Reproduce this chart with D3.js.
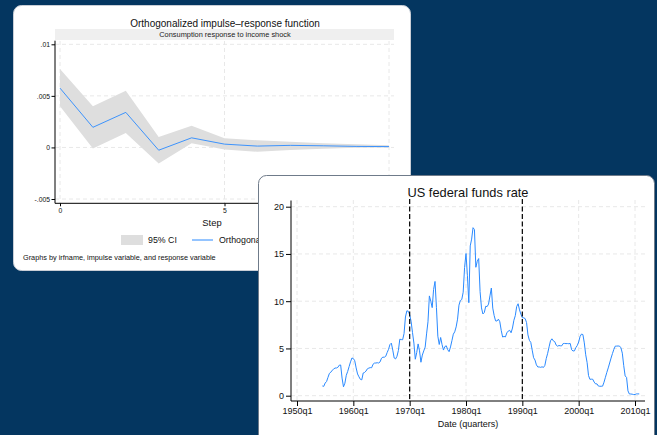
<!DOCTYPE html>
<html>
<head>
<meta charset="utf-8">
<script src="https://cdn.jsdelivr.net/npm/d3@7"></script>
<style>
  html, body { margin: 0; padding: 0; background: #043660; }
  svg { display: block; font-family: "Liberation Sans", Arial, sans-serif; }
</style>
</head>
<body>
<script>
// irf data (steps 0..10)
const steps = [0, 1, 2, 3, 4, 5, 6, 7, 8, 9, 10]
const irf = [0.00575, 0.00195, 0.0034, -0.00027, 0.00093, 0.00032, 0.00013, 0.0002, 0.00016, 0.0001, 0.00008]
const ciUpper = [0.0076, 0.0040, 0.0055, 0.0010, 0.0021, 0.0009, 0.0007, 0.00055, 0.0004, 0.0003, 0.0002]
const ciLower = [0.0040, -0.0001, 0.0014, -0.00156, 0.0004, -0.0002, -0.00043, -0.00026, -0.00013, -0.00003, 0.0000]
const irfYTicks = [-0.005, 0, 0.005, 0.01]
const irfYLabels = ["-.005", "0", ".005", ".01"]
const irfXTicks = [0, 5, 10]

// fed funds, quarterly from 1954q3 to 2010q4
const ffStart = 1954.5
const fedfunds = [
  1.03, 0.99,
  1.34, 1.50, 1.94, 2.36,
  2.48, 2.69, 2.81, 2.93,
  2.93, 3.00, 3.23, 3.25,
  1.86, 0.94, 1.32, 2.16,
  2.57, 3.08, 3.58, 3.99,
  3.93, 3.70, 2.94, 2.30,
  2.00, 1.73, 1.68, 2.40,
  2.46, 2.61, 2.85, 2.92,
  2.97, 2.96, 3.33, 3.45,
  3.46, 3.49, 3.46, 3.58,
  3.97, 4.08, 4.07, 4.17,
  4.56, 4.91, 5.41, 5.56,
  4.82, 3.99, 3.89, 4.17,
  4.79, 5.98, 5.94, 5.92,
  6.57, 8.33, 8.98, 8.94,
  8.57, 7.88, 6.70, 5.57,
  3.86, 4.56, 5.48, 4.75,
  3.54, 4.30, 4.74, 5.14,
  6.54, 7.82, 10.56, 10.00,
  9.32, 11.25, 12.09, 9.35,
  6.30, 5.42, 6.16, 5.41,
  4.83, 5.20, 5.28, 4.87,
  4.66, 5.16, 5.82, 6.51,
  6.76, 7.28, 8.10, 9.58,
  10.07, 10.18, 10.95, 13.58,
  15.05, 12.69, 9.84, 15.85,
  16.57, 17.78, 17.58, 13.59,
  14.23, 14.51, 11.01, 9.29,
  8.65, 8.80, 9.46, 9.43,
  9.69, 10.56, 11.39, 9.27,
  8.48, 7.92, 7.90, 8.10,
  7.83, 6.92, 6.21, 6.27,
  6.22, 6.65, 6.84, 6.92,
  6.66, 7.16, 7.98, 8.47,
  9.44, 9.73, 9.08, 8.61,
  8.25, 8.24, 8.16, 7.74,
  6.43, 5.86, 5.64, 4.82,
  4.02, 3.77, 3.26, 3.04,
  3.04, 3.00, 3.06, 2.99,
  3.21, 3.94, 4.49, 5.17,
  5.81, 6.02, 5.80, 5.72,
  5.36, 5.24, 5.31, 5.28,
  5.28, 5.52, 5.53, 5.51,
  5.52, 5.50, 5.53, 4.86,
  4.73, 4.75, 5.09, 5.31,
  5.68, 6.27, 6.52, 6.47,
  5.59, 4.33, 3.50, 2.13,
  1.73, 1.75, 1.74, 1.44,
  1.25, 1.25, 1.02, 1.00,
  1.00, 1.01, 1.43, 1.95,
  2.47, 2.94, 3.46, 3.98,
  4.46, 4.91, 5.25, 5.25,
  5.26, 5.25, 5.07, 4.50,
  3.18, 2.09, 1.94, 0.51,
  0.18, 0.18, 0.16, 0.12,
  0.13, 0.19, 0.19, 0.19
]
const ffXTicks = [1950, 1960, 1970, 1980, 1990, 2000, 2010]
const ffYTicks = [0, 5, 10, 15, 20]
const ffLines = [1970, 1990]

const blue = "#2a8aff"
const grid = "#e8e8e8"

var svg = d3.select("body").append("svg")
  .attr("width", 657).attr("height", 435)

svg.append("rect").attr("width", 657).attr("height", 435).attr("fill", "#043660")

// ---------- left card : irf ----------
var left = svg.append("g")
left.append("rect")
  .attr("x", 13.5).attr("y", 5.5).attr("width", 397).attr("height", 265)
  .attr("rx", 8).attr("fill", "#fff").attr("stroke", "#c9ced6")

let xI = d3.scaleLinear().domain([0, 10]).range([60, 389])
let yI = d3.scaleLinear().domain([-0.005, 0.01]).range([199, 44.3])

left.append("text").text("Orthogonalized impulse\u2013response function")
  .attr("x", 225).attr("y", 26.5).attr("text-anchor", "middle")
  .attr("font-size", 10).attr("fill", "#111")
left.append("rect").attr("x", 55).attr("y", 29).attr("width", 339).attr("height", 11)
  .attr("fill", "#efefef")
left.append("text").text("Consumption response to income shock")
  .attr("x", 225).attr("y", 37.3).attr("text-anchor", "middle")
  .attr("font-size", 7.4).attr("fill", "#222")

// grid
left.selectAll(".hg").data(irfYTicks).enter().append("line")
  .attr("x1", 55).attr("x2", 394)
  .attr("y1", d => yI(d)).attr("y2", d => yI(d))
  .attr("stroke", grid).attr("stroke-dasharray", "4,3")
left.selectAll(".vg").data(irfXTicks).enter().append("line")
  .attr("x1", d => xI(d)).attr("x2", d => xI(d))
  .attr("y1", 41).attr("y2", 203)
  .attr("stroke", grid).attr("stroke-dasharray", "4,3")

// ci band
let band = d3.area()
  .x((d, i) => xI(steps[i]))
  .y0((d, i) => yI(ciLower[i]))
  .y1((d, i) => yI(ciUpper[i]))
left.append("path").datum(steps).attr("d", band).attr("fill", "#dedede")

let lineI = d3.line().x((d, i) => xI(steps[i])).y(d => yI(d))
left.append("path").datum(irf).attr("d", lineI)
  .attr("fill", "none").attr("stroke", blue).attr("stroke-width", 0.9)

// axes
let yAxI = d3.axisLeft(yI).tickValues(irfYTicks)
  .tickFormat((d, i) => irfYLabels[i]).tickSize(3.5).tickPadding(1.5)
let gy = left.append("g").attr("transform", "translate(55,0)").call(yAxI)
gy.select(".domain").attr("d", "M0,40.7V203.3").attr("stroke", "#000")
gy.selectAll("text").attr("font-size", 6.8).attr("fill", "#111").attr("font-family", "Liberation Sans, Arial")

let xAxI = d3.axisBottom(xI).tickValues(irfXTicks).tickFormat(d3.format("d")).tickSize(3).tickPadding(1.5)
let gx = left.append("g").attr("transform", "translate(0,203.3)").call(xAxI)
gx.select(".domain").attr("d", "M55,0H400").attr("stroke", "#000")
gx.selectAll("text").attr("font-size", 6.8).attr("fill", "#111").attr("font-family", "Liberation Sans, Arial")

left.append("text").text("Step").attr("x", 212).attr("y", 226)
  .attr("text-anchor", "middle").attr("font-size", 9.4).attr("fill", "#111")

// legend
left.append("rect").attr("x", 121).attr("y", 235).attr("width", 22).attr("height", 10).attr("fill", "#dedede")
left.append("text").text("95% CI").attr("x", 148).attr("y", 243.3).attr("font-size", 8.8).attr("fill", "#111")
left.append("line").attr("x1", 192).attr("x2", 213).attr("y1", 240).attr("y2", 240)
  .attr("stroke", blue).attr("stroke-width", 1)
left.append("text").text("Orthogonalized irf").attr("x", 219).attr("y", 243.3).attr("font-size", 8.8).attr("fill", "#111")

left.append("text").text("Graphs by irfname, impulse variable, and response variable")
  .attr("x", 23).attr("y", 259.5).attr("font-size", 7.3).attr("fill", "#111")

// ---------- right card : fed funds ----------
var right = svg.append("g")
right.append("rect")
  .attr("x", 258.5).attr("y", 175.5).attr("width", 396).attr("height", 280)
  .attr("rx", 8).attr("fill", "#fff").attr("stroke", "#6f7b8a")

let xF = d3.scaleLinear().domain([1950, 2010]).range([297, 635])
let yF = d3.scaleLinear().domain([0, 20]).range([395.7, 206.7])

right.append("text").text("US federal funds rate")
  .attr("x", 468).attr("y", 196.5).attr("text-anchor", "middle")
  .attr("font-size", 12.8).attr("fill", "#111")

right.selectAll(".hg").data(ffYTicks).enter().append("line")
  .attr("x1", 291).attr("x2", 645)
  .attr("y1", d => yF(d)).attr("y2", d => yF(d))
  .attr("stroke", grid).attr("stroke-dasharray", "4,3")
right.selectAll(".vg").data(ffXTicks).enter().append("line")
  .attr("x1", d => xF(d)).attr("x2", d => xF(d))
  .attr("y1", 200).attr("y2", 401)
  .attr("stroke", grid).attr("stroke-dasharray", "4,3")

let lineF = d3.line().x((d, i) => xF(ffStart + i / 4)).y(d => yF(d))
right.append("path").datum(fedfunds).attr("d", lineF)
  .attr("fill", "none").attr("stroke", blue).attr("stroke-width", 1)

right.selectAll(".xl").data(ffLines).enter().append("line")
  .attr("x1", d => xF(d)).attr("x2", d => xF(d))
  .attr("y1", 199).attr("y2", 401)
  .attr("stroke", "#000").attr("stroke-width", 1.2).attr("stroke-dasharray", "5,2.5")

let yAxF = d3.axisLeft(yF).tickValues(ffYTicks).tickFormat(d3.format("d")).tickSize(5).tickPadding(2)
let gyF = right.append("g").attr("transform", "translate(291,0)").call(yAxF)
gyF.select(".domain").attr("d", "M0,200.5V401").attr("stroke", "#000")
gyF.selectAll("text").attr("font-size", 9).attr("fill", "#111").attr("font-family", "Liberation Sans, Arial")

let xAxF = d3.axisBottom(xF).tickValues(ffXTicks).tickFormat(d => d + "q1").tickSize(5).tickPadding(2)
let gxF = right.append("g").attr("transform", "translate(0,401)").call(xAxF)
gxF.select(".domain").attr("d", "M291,0H645").attr("stroke", "#000")
gxF.selectAll("text").attr("font-size", 9).attr("fill", "#111").attr("font-family", "Liberation Sans, Arial")

right.append("text").text("Date (quarters)").attr("x", 468).attr("y", 427)
  .attr("text-anchor", "middle").attr("font-size", 9).attr("fill", "#111")
</script>
</body>
</html>
